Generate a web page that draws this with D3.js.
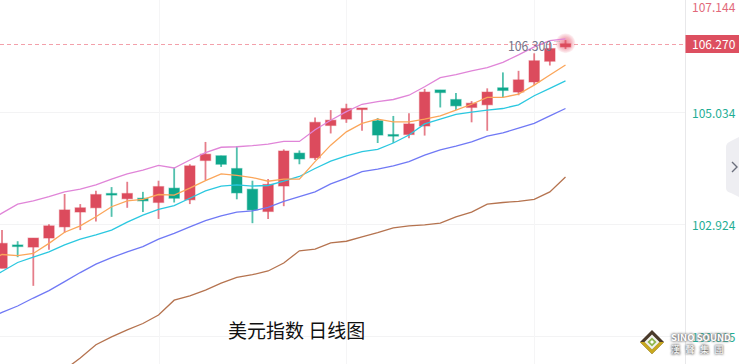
<!DOCTYPE html>
<html>
<head>
<meta charset="utf-8">
<script src="https://cdnjs.cloudflare.com/ajax/libs/d3/7.8.5/d3.min.js"></script>
<style>
  html, body { margin: 0; padding: 0; background: #fff; overflow: hidden; }
  svg { display: block; }
  text { font-family: "Noto Sans CJK SC", "Noto Sans", sans-serif; }
</style>
</head>
<body>
<script>
// daily dollar index candles (first one sits off the left edge)
var opens = [102.10,102.09,102.53,102.49,102.66,102.87,103.15,103.23,103.50,103.40,103.41,103.33,103.60,103.38,104.12,104.21,103.97,103.58,103.16,103.64,104.26,104.17,104.78,104.90,105.09,104.87,104.61,104.61,104.77,105.45,105.27,105.12,105.17,105.49,105.41,105.60,105.99,106.26];
var highs = [102.30,102.81,102.60,102.66,102.92,103.49,103.30,103.55,103.62,103.72,103.53,103.74,103.99,104.05,104.47,104.21,104.39,103.74,103.77,104.33,104.31,104.93,105.07,105.19,105.11,104.92,104.96,105.01,105.47,105.45,105.39,105.24,105.48,105.78,105.81,106.14,106.34,106.39];
var lows = [101.90,102.09,102.30,101.76,102.44,102.76,102.81,102.97,103.06,103.23,103.15,103.02,103.33,103.30,103.75,104.00,103.39,102.94,103.02,103.26,104.05,104.13,104.63,104.83,104.68,104.45,104.45,104.54,104.59,105.12,105.07,104.84,104.68,105.31,105.35,105.54,105.91,106.22];
var closes = [102.12,102.56,102.51,102.66,102.89,103.19,103.23,103.48,103.47,103.50,103.36,103.63,103.41,104.02,104.24,104.05,103.51,103.19,103.67,104.30,104.15,104.84,104.88,105.10,105.11,104.60,104.59,104.81,105.41,105.40,105.15,105.20,105.41,105.44,105.64,106.00,106.23,106.32];

// moving averages
var maPink = [102.95,103.13,103.30,103.36,103.44,103.53,103.58,103.66,103.77,103.87,103.94,104.03,103.98,104.13,104.27,104.37,104.38,104.40,104.43,104.48,104.48,104.70,104.88,105.04,105.18,105.23,105.27,105.35,105.51,105.68,105.74,105.81,105.87,105.97,106.11,106.26,106.38,106.41];
var maOrange = [102.20,102.35,102.33,102.37,102.56,102.77,102.89,103.06,103.25,103.36,103.39,103.48,103.47,103.60,103.74,103.87,103.84,103.80,103.73,103.77,103.77,104.10,104.41,104.66,104.82,104.90,104.85,104.85,104.90,104.96,105.07,105.18,105.31,105.31,105.37,105.54,105.73,105.92];
var maCyan = [101.85,102.03,102.20,102.30,102.40,102.53,102.64,102.72,102.81,102.96,103.09,103.20,103.27,103.41,103.55,103.64,103.66,103.64,103.65,103.73,103.82,103.97,104.11,104.21,104.29,104.33,104.45,104.60,104.81,104.90,104.99,105.03,105.07,105.10,105.17,105.34,105.48,105.62];
var maBlue = [101.12,101.26,101.38,101.53,101.67,101.84,102.01,102.17,102.29,102.40,102.50,102.64,102.75,102.87,102.99,103.08,103.15,103.17,103.24,103.35,103.44,103.53,103.68,103.79,103.91,103.96,104.02,104.10,104.22,104.32,104.39,104.47,104.58,104.64,104.73,104.82,104.96,105.10];
var maBrown = [99.00,99.23,99.46,99.69,99.93,100.18,100.40,100.65,100.80,100.93,101.05,101.21,101.49,101.57,101.68,101.81,101.92,101.97,102.04,102.19,102.42,102.45,102.57,102.60,102.68,102.76,102.85,102.89,102.91,102.94,103.06,103.15,103.30,103.33,103.35,103.39,103.53,103.81];

var tickValues = [107.144, 105.034, 102.924, 100.815];
var vGridIndex = [11, 23, 35];
var lastPrice = 106.32;
var lastLabel = "106.270";
var hoverLabel = "106.300";
var title = "美元指数 日线图";

var width = 739, height = 364, axisX = 685.5;
var red = "#dc4c5d", green = "#0ba78c";

var x = d3.scaleLinear().domain([0, 37]).range([-13.65, 565.5]);
var y = d3.scaleLinear().domain([100.815, 107.144]).range([336, 0]);

var svg = d3.select("body").append("svg")
  .attr("width", width)
  .attr("height", height);

var defs = svg.append("defs");
defs.append("filter").attr("id", "soft")
  .append("feGaussianBlur").attr("stdDeviation", 0.3);
defs.append("filter").attr("id", "halo")
  .attr("x", "-20%").attr("y", "-50%").attr("width", "140%").attr("height", "200%")
  .append("feGaussianBlur").attr("stdDeviation", 1.3);
var glow = defs.append("radialGradient").attr("id", "glow");
glow.append("stop").attr("offset", "0%").attr("stop-color", "#e6546a").attr("stop-opacity", 0.7);
glow.append("stop").attr("offset", "60%").attr("stop-color", "#e6546a").attr("stop-opacity", 0.4);
glow.append("stop").attr("offset", "100%").attr("stop-color", "#e6546a").attr("stop-opacity", 0.05);

// grid
svg.append("g").selectAll("line")
  .data(tickValues.slice(1))
  .enter().append("line")
  .attr("x1", 0).attr("x2", axisX)
  .attr("y1", function(d) { return Math.round(y(d)) + 0.5; })
  .attr("y2", function(d) { return Math.round(y(d)) + 0.5; })
  .attr("stroke", "#f3f3f4");

svg.append("g").selectAll("line")
  .data(vGridIndex)
  .enter().append("line")
  .attr("x1", function(d) { return Math.round(x(d)) + 0.5; })
  .attr("x2", function(d) { return Math.round(x(d)) + 0.5; })
  .attr("y1", 0).attr("y2", height)
  .attr("stroke", "#f5f5f6");

svg.append("line")
  .attr("x1", axisX).attr("x2", axisX)
  .attr("y1", 0).attr("y2", height)
  .attr("stroke", "#e8e8ea");

// last price line
svg.append("line")
  .attr("x1", 0).attr("x2", axisX)
  .attr("y1", 44.5).attr("y2", 44.5)
  .attr("stroke", "#f3a0aa")
  .attr("stroke-dasharray", "4 3");

// pulse on the live candle
svg.append("circle")
  .attr("cx", x(37)).attr("cy", y(lastPrice) - 0.5)
  .attr("r", 10)
  .attr("fill", "url(#glow)");

var plot = svg.append("g").attr("filter", "url(#soft)");

// moving average lines
var line = d3.line()
  .x(function(d, i) { return x(i); })
  .y(function(d) { return y(d); });

var maSeries = [
  {values: maBrown, color: "#b5734f"},
  {values: maBlue, color: "#7079f5"},
  {values: maCyan, color: "#2cc8e0"},
  {values: maOrange, color: "#fba65a"},
  {values: maPink, color: "#e085d8"}
];

// candles
var idx = d3.range(opens.length);
var color = function(i) { return closes[i] >= opens[i] ? red : green; };

plot.append("g").selectAll("line")
  .data(idx)
  .enter().append("line")
  .attr("x1", function(i) { return x(i); })
  .attr("x2", function(i) { return x(i); })
  .attr("y1", function(i) { return y(highs[i]); })
  .attr("y2", function(i) { return y(lows[i]); })
  .attr("stroke", color)
  .attr("stroke-opacity", 0.72)
  .attr("stroke-width", 1.8);

plot.append("g").selectAll("rect")
  .data(idx)
  .enter().append("rect")
  .attr("x", function(i) { return x(i) - 5.2; })
  .attr("width", 10.4)
  .attr("y", function(i) { return y(Math.max(opens[i], closes[i])); })
  .attr("height", function(i) { return Math.max(1.6, Math.abs(y(opens[i]) - y(closes[i]))); })
  .attr("fill", color)
  .attr("stroke", color)
  .attr("stroke-opacity", 0.4)
  .attr("stroke-width", 1.2);

plot.append("g").selectAll("path")
  .data(maSeries)
  .enter().append("path")
  .attr("d", function(d) { return line(d.values); })
  .attr("fill", "none")
  .attr("stroke", function(d) { return d.color; })
  .attr("stroke-width", 1.3);

svg.append("text")
  .attr("x", 508).attr("y", 51)
  .attr("font-size", 13.5)
  .attr("textLength", 44)
  .attr("lengthAdjust", "spacingAndGlyphs")
  .attr("fill", "#75758a")
  .text(hoverLabel);
svg.append("text")
  .attr("x", 554).attr("y", 42)
  .attr("font-size", 7)
  .attr("fill", "#a0a0ac")
  .text("...");

// price axis
var yAxis = d3.axisRight(y)
  .tickValues(tickValues)
  .tickSize(0)
  .tickPadding(0)
  .tickFormat(d3.format(".3f"));

var axis = svg.append("g")
  .attr("transform", "translate(692,0)")
  .call(yAxis);
axis.select(".domain").remove();
axis.selectAll("text")
  .attr("font-size", 12)
  .attr("font-family", '"Noto Sans CJK SC", "Noto Sans", sans-serif')
  .attr("y", function(d) { return d > 107 ? 8 : 2; })
  .attr("fill", function(d) { return d > lastPrice ? "#e2697a" : "#1fae95"; });

// last price tag
svg.append("rect")
  .attr("x", axisX).attr("y", 35)
  .attr("width", width - axisX).attr("height", 18)
  .attr("fill", "#dd4f60");
svg.append("text")
  .attr("x", 692).attr("y", 49)
  .attr("font-size", 12)
  .attr("fill", "#fff")
  .text(lastLabel);

// scroll handle at the right edge
svg.append("path")
  .attr("d", "M739,137 L731,141 Q726,143 726,147 L726,188 Q726,192 731,193 L739,197 Z")
  .attr("fill", "#eeeef2");
svg.append("path")
  .attr("d", "M732,162 L737,167 L732,172")
  .attr("fill", "none")
  .attr("stroke", "#6a6e7c")
  .attr("stroke-width", 1.4);

// chart title
svg.append("text")
  .attr("x", 228).attr("y", 338)
  .attr("font-size", 19)
  .attr("fill", "#111")
  .text(title);

// watermark logo
var logo = svg.append("g").attr("transform", "translate(652,342)");
logo.append("path").attr("d", "M0,-12 L12,0 L0,12 L-12,0 Z").attr("fill", "#4a3a2a");
logo.append("path").attr("d", "M0,12 L12,0 L7.5,0 L0,7.5 L-7.5,0 L-12,0 Z").attr("fill", "#c9a91e");
logo.append("path").attr("d", "M0,-7.5 L7.5,0 L0,7.5 L-7.5,0 Z").attr("fill", "#f4f4ee");
logo.append("path").attr("d", "M0,-4.6 L4.6,0 L0,4.6 L-4.6,0 Z").attr("fill", "#8fb84f");
logo.append("path").attr("d", "M0,-2 L2,0 L0,2 L-2,0 Z").attr("fill", "#fff");

var logoText = [
  {text: "SINO SOUND", y: 341, size: 9.5, weight: 700, spacing: 0},
  {text: "漢聲集團", y: 353, size: 9, weight: 400, spacing: 5.5}
];
// grey smudge behind, white on top
svg.append("g").attr("filter", "url(#halo)").selectAll("text")
  .data(logoText)
  .enter().append("text")
  .attr("x", 671).attr("y", function(d) { return d.y; })
  .attr("font-size", function(d) { return d.size; })
  .attr("font-weight", function(d) { return d.weight; })
  .attr("letter-spacing", function(d) { return d.spacing; })
  .attr("fill", "#777")
  .attr("stroke", "#777")
  .text(function(d) { return d.text; });
svg.append("g").selectAll("text")
  .data(logoText)
  .enter().append("text")
  .attr("x", 671).attr("y", function(d) { return d.y; })
  .attr("font-size", function(d) { return d.size; })
  .attr("font-weight", function(d) { return d.weight; })
  .attr("letter-spacing", function(d) { return d.spacing; })
  .attr("fill", "#fff")
  .text(function(d) { return d.text; });
</script>
</body>
</html>
